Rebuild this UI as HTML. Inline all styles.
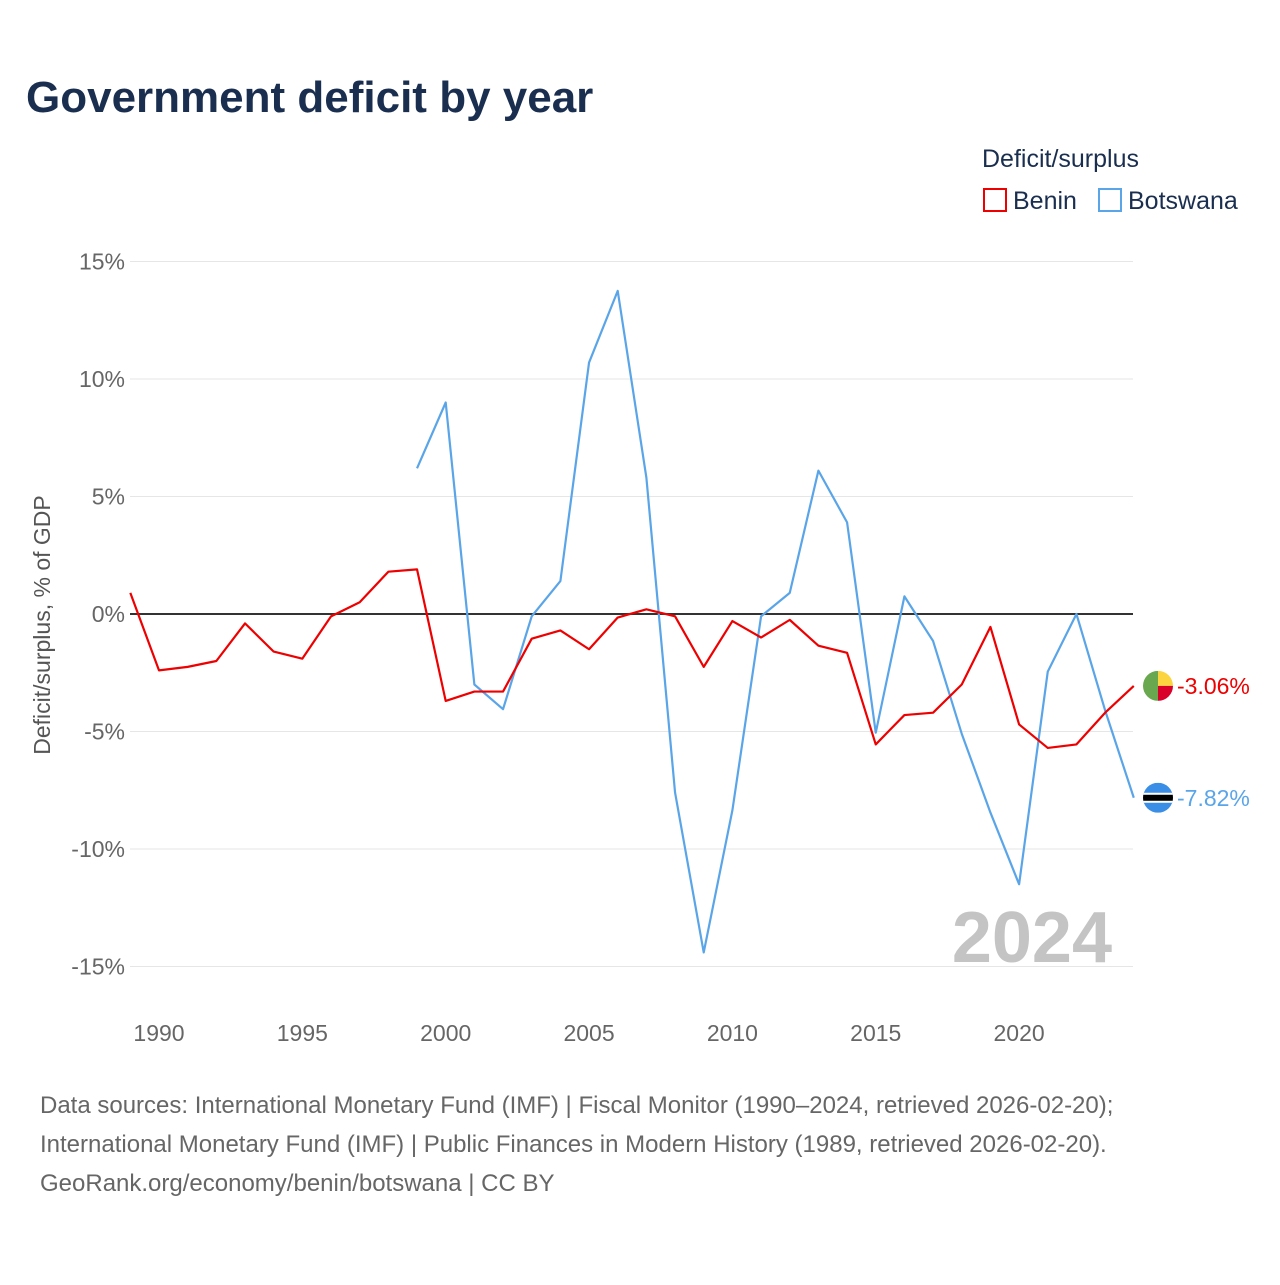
<!DOCTYPE html>
<html><head><meta charset="utf-8"><style>
body{margin:0;background:#fff;font-family:"Liberation Sans",sans-serif;}
svg text{font-family:"Liberation Sans",sans-serif;}
</style></head><body>
<svg width="1280" height="1280" xmlns="http://www.w3.org/2000/svg">
<text x="26" y="112" font-size="44" font-weight="bold" fill="#1a2e4f">Government deficit by year</text>
<text x="982" y="167" font-size="25" fill="#1a2e4f">Deficit/surplus</text>
<g><rect x="984" y="189" width="22" height="22" fill="none" stroke="#e00" stroke-width="2"/><text x="1013" y="209" font-size="25" fill="#1a2e4f">Benin</text></g>
<g><rect x="1099" y="189" width="22" height="22" fill="none" stroke="#5aa5e8" stroke-width="2"/><text x="1128" y="209" font-size="25" fill="#1a2e4f">Botswana</text></g>
<g id="grid"></g>
<g id="yt"></g>
<g id="xt"></g>
<text transform="translate(50,625) rotate(-90)" text-anchor="middle" font-size="23" fill="#555">Deficit/surplus, % of GDP</text>
<text x="1112" y="962" text-anchor="end" font-size="72" font-weight="bold" fill="#c4c4c4">2024</text>
<g id="series"></g>
<text x="20" y="1113" font-size="24" fill="#666" x="40"></text>
<text x="40" y="1113" font-size="24" fill="#666">Data sources: International Monetary Fund (IMF) | Fiscal Monitor (1990–2024, retrieved 2026-02-20);</text>
<text x="40" y="1152" font-size="24" fill="#666">International Monetary Fund (IMF) | Public Finances in Modern History (1989, retrieved 2026-02-20).</text>
<text x="40" y="1191" font-size="24" fill="#666">GeoRank.org/economy/benin/botswana | CC BY</text>
</svg>
<script>
const yTicks=[15,10,5,0,-5,-10,-15];
const xTicks=[1990,1995,2000,2005,2010,2015,2020];
const beninYears=[1989,1990,1991,1992,1993,1994,1995,1996,1997,1998,1999,2000,2001,2002,2003,2004,2005,2006,2007,2008,2009,2010,2011,2012,2013,2014,2015,2016,2017,2018,2019,2020,2021,2022,2023,2024];
const beninValues=[0.9,-2.4,-2.25,-2.0,-0.4,-1.6,-1.9,-0.1,0.5,1.8,1.9,-3.7,-3.3,-3.3,-1.05,-0.7,-1.5,-0.15,0.2,-0.1,-2.25,-0.3,-1.0,-0.25,-1.35,-1.65,-5.55,-4.3,-4.2,-3.0,-0.55,-4.7,-5.7,-5.55,-4.2,-3.06];
const botswanaYears=[1999,2000,2001,2002,2003,2004,2005,2006,2007,2008,2009,2010,2011,2012,2013,2014,2015,2016,2017,2018,2019,2020,2021,2022,2023,2024];
const botswanaValues=[6.2,9.0,-3.0,-4.05,-0.1,1.4,10.7,13.75,5.8,-7.6,-14.4,-8.35,-0.1,0.9,6.1,3.9,-5.05,0.75,-1.15,-5.1,-8.45,-11.5,-2.45,0.0,-4.1,-7.82];
const NS='http://www.w3.org/2000/svg';
const xs=y=>159+(y-1990)*28.67;
const ys=v=>614-v*23.5;
function mk(t,a,p){const e=document.createElementNS(NS,t);for(const k in a)e.setAttribute(k,a[k]);p.appendChild(e);return e;}
const grid=document.getElementById('grid'),yt=document.getElementById('yt'),xt=document.getElementById('xt'),ser=document.getElementById('series');
yTicks.forEach(v=>{
 const l=mk('line',{x1:130,x2:1133,y1:ys(v),y2:ys(v),stroke:v===0?'#333':'#e6e6e6','stroke-width':v===0?2:1},grid);
 
 
 const t=mk('text',{x:125,y:ys(v)+8,'text-anchor':'end','font-size':23,fill:'#666'},yt);
 t.textContent=v+'%';
 
 
});
xTicks.forEach(y=>{
 const t=mk('text',{x:xs(y),y:1041,'text-anchor':'middle','font-size':23,fill:'#666'},xt);
 t.textContent=y;
 
 
});
function line(yrs,vals,col,name){
 const p=mk('polyline',{points:yrs.map((y,i)=>xs(y)+','+ys(vals[i])).join(' '),fill:'none',stroke:col,'stroke-width':2.2,'stroke-linejoin':'round'},ser);
 
 
}
line(botswanaYears,botswanaValues,'#5aa5e8','botswana-line');
line(beninYears,beninValues,'#e00','benin-line');
// end labels and flags
const bx=1158,by1=ys(beninValues[beninValues.length-1]),by2=ys(botswanaValues[botswanaValues.length-1]);
const f1=mk('g',{},ser);


mk('clipPath',{id:'c1'},f1);
document.getElementById('c1').appendChild(document.createElementNS(NS,'circle'));
const c1=document.querySelector('#c1 circle');c1.setAttribute('cx',bx);c1.setAttribute('cy',by1);c1.setAttribute('r',15);
const g1=mk('g',{'clip-path':'url(#c1)'},f1);
mk('rect',{x:bx-15,y:by1-15,width:15,height:30,fill:'#6aa84f'},g1);
mk('rect',{x:bx,y:by1-15,width:15,height:15,fill:'#fcd440'},g1);
mk('rect',{x:bx,y:by1,width:15,height:15,fill:'#d9002a'},g1);
const f2=mk('g',{},ser);


mk('clipPath',{id:'c2'},f2);
const c2=document.createElementNS(NS,'circle');c2.setAttribute('cx',bx);c2.setAttribute('cy',by2);c2.setAttribute('r',15);document.getElementById('c2').appendChild(c2);
const g2=mk('g',{'clip-path':'url(#c2)'},f2);
mk('rect',{x:bx-15,y:by2-15,width:30,height:30,fill:'#3a8ee6'},g2);
mk('rect',{x:bx-15,y:by2-5,width:30,height:10,fill:'#fff'},g2);
mk('rect',{x:bx-15,y:by2-3,width:30,height:6,fill:'#000'},g2);
const t1=mk('text',{x:1177,y:by1+8,'font-size':23,fill:'#e00'},ser);
t1.textContent=beninValues[beninValues.length-1].toFixed(2)+'%';


const t2=mk('text',{x:1177,y:by2+8,'font-size':23,fill:'#5aa5e8'},ser);
t2.textContent=botswanaValues[botswanaValues.length-1].toFixed(2)+'%';


</script>
</body></html>
